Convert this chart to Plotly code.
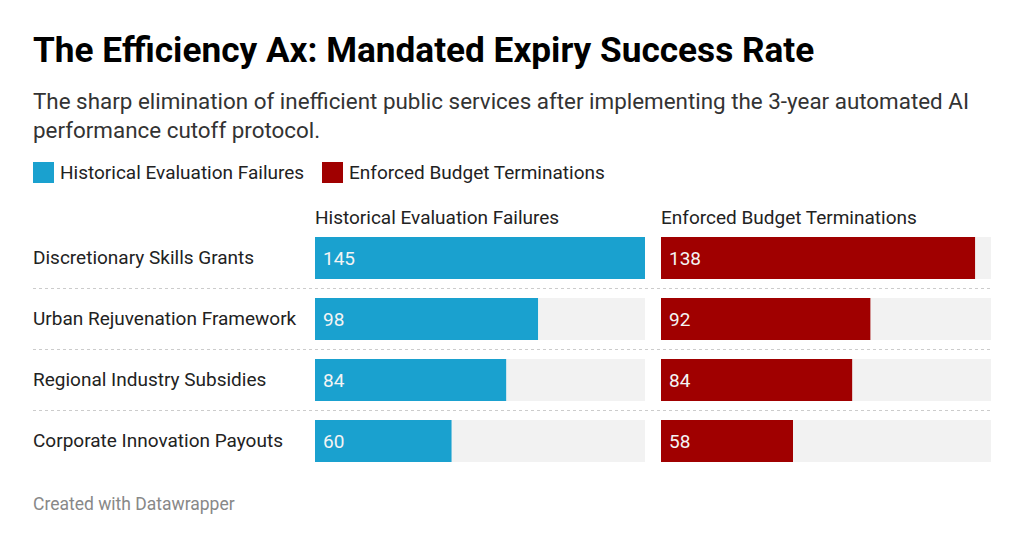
import plotly.graph_objects as go

categories = ["Discretionary Skills Grants", "Urban Rejuvenation Framework",
              "Regional Industry Subsidies", "Corporate Innovation Payouts"]
historical = [145, 98, 84, 60]
enforced = [138, 92, 84, 58]
series_names = ["Historical Evaluation Failures", "Enforced Budget Terminations"]
max_value = 145

BLUE = "#1aa1cf"
RED = "#a00000"
W, H = 1024, 547
OFF = 8  # page body margin
FONT = "Roboto"

def px(x):
    return (x - OFF) / W

def py(y):
    return 1 - (y - OFF) / H

fig = go.Figure()

for i, (vals, color) in enumerate([(historical, BLUE), (enforced, RED)]):
    xa = "x" if i == 0 else "x2"
    fig.add_trace(go.Bar(y=categories, x=[max_value] * len(categories), orientation="h",
                         marker=dict(color="#f2f2f2", line=dict(width=0)),
                         xaxis=xa, yaxis="y", hoverinfo="skip", showlegend=False))
    fig.add_trace(go.Bar(y=categories, x=vals, orientation="h",
                         marker=dict(color=color, line=dict(width=0)),
                         xaxis=xa, yaxis="y", name=series_names[i], showlegend=False))
    for c, v in zip(categories, vals):
        fig.add_annotation(x=0, y=c, xref=xa, yref="y", text=str(v), showarrow=False,
                           xanchor="left", xshift=6, font=dict(family=FONT, size=19, color="#f4f4f4"))

for c in categories:
    fig.add_annotation(x=px(33), y=c, xref="paper", yref="y", text=c, showarrow=False,
                       xanchor="left", xshift=-2, yshift=1,
                       font=dict(family=FONT, size=19, color="#222"))

for k in range(len(categories) - 1):
    fig.add_shape(type="line", xref="paper", yref="y", x0=px(33), x1=px(991),
                  y0=k + 0.5, y1=k + 0.5, line=dict(color="#cccccc", width=1, dash="dot"))

# column headers
fig.add_annotation(x=px(315), y=py(217), xref="paper", yref="paper", text=series_names[0],
                   showarrow=False, xanchor="left", yanchor="middle", xshift=-2,
                   font=dict(family=FONT, size=19, color="#222"))
fig.add_annotation(x=px(661), y=py(217), xref="paper", yref="paper", text=series_names[1],
                   showarrow=False, xanchor="left", yanchor="middle", xshift=-2,
                   font=dict(family=FONT, size=19, color="#222"))

# legend
for x0, color, name in [(33, BLUE, series_names[0]), (322, RED, series_names[1])]:
    fig.add_shape(type="rect", xref="paper", yref="paper", x0=px(x0), x1=px(x0 + 21),
                  y0=py(183), y1=py(162), fillcolor=color, line=dict(width=0))
    fig.add_annotation(x=px(x0 + 27), y=py(172.5), xref="paper", yref="paper", text=name,
                       showarrow=False, xanchor="left", yanchor="middle", xshift=-2,
                       font=dict(family=FONT, size=19, color="#222"))

# title / subtitle / footer
fig.add_annotation(x=px(33), y=py(50), xref="paper", yref="paper",
                   text="<b>The Efficiency Ax: Mandated Expiry Success Rate</b>",
                   showarrow=False, xanchor="left", yanchor="middle", xshift=-2,
                   font=dict(family=FONT, size=35.2, color="#000"))
fig.add_annotation(x=px(33), y=py(115), xref="paper", yref="paper",
                   text="The sharp elimination of inefficient public services after implementing the 3-year automated AI<br>performance cutoff protocol.",
                   showarrow=False, xanchor="left", yanchor="middle", align="left", xshift=-2,
                   font=dict(family=FONT, size=22.4, color="#333"))
fig.add_annotation(x=px(33), y=py(504), xref="paper", yref="paper", text="Created with Datawrapper",
                   showarrow=False, xanchor="left", yanchor="middle", xshift=-2,
                   font=dict(family=FONT, size=17.5, color="#888"))

fig.update_layout(
    width=W, height=H, margin=dict(l=0, r=0, t=0, b=0),
    paper_bgcolor="white", plot_bgcolor="white",
    barmode="overlay", bargap=0.31, showlegend=False,
    xaxis=dict(domain=[px(315), px(645)], range=[0, max_value], visible=False, fixedrange=True),
    xaxis2=dict(domain=[px(661), px(991)], range=[0, max_value], visible=False, fixedrange=True),
    yaxis=dict(domain=[py(471.5), py(227.5)], autorange="reversed", visible=False,
               categoryorder="array", categoryarray=categories, fixedrange=True),
)

fig.write_html("out.html")
